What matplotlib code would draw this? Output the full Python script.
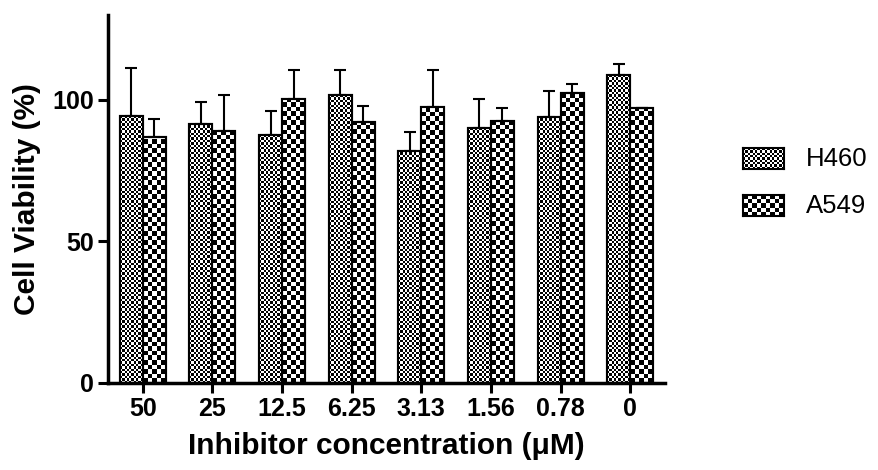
import numpy as np
import matplotlib
matplotlib.use("Agg")
import matplotlib.pyplot as plt

plt.rcParams['font.family'] = ['Liberation Sans', 'DejaVu Sans']

categories = ["50", "25", "12.5", "6.25", "3.13", "1.56", "0.78", "0"]
h460 = [94.2, 91.6, 87.6, 101.9, 81.9, 90.0, 94.1, 108.9]
h460_err = [17.2, 7.8, 8.4, 8.5, 6.8, 10.5, 9.2, 3.9]
a549 = [86.9, 89.0, 100.2, 92.3, 97.5, 92.6, 102.4, 97.0]
a549_err = [6.5, 12.6, 10.5, 5.6, 12.9, 4.6, 3.3, 0.0]
series_names = ["H460", "A549"]

W, H = 879, 470
fig = plt.figure(figsize=(W / 100, H / 100), dpi=100)
ax = fig.add_axes([108 / W, 87 / H, (665 - 108) / W, (383 - 15) / H])

x = np.arange(len(categories))
bw = 0.33
px_per_unit_y = (383 - 15) / 130.0
px_per_unit_x = (665 - 108) / 8.0


def checker(nx, ny):
    a = (np.add.outer(np.arange(ny), np.arange(nx)) % 2).astype(float)
    return a


def fill_checker(rect, sq_px):
    x0 = rect.get_x()
    w = rect.get_width()
    h = rect.get_height()
    wpx = w * px_per_unit_x
    hpx = h * px_per_unit_y
    nx = max(1, int(round(wpx / sq_px)))
    ny = max(1, int(round(hpx / sq_px)))
    img = checker(nx, ny)
    im = ax.imshow(img, cmap='gray', vmin=0, vmax=1, interpolation='nearest',
                   extent=(x0, x0 + w, 0, ny * sq_px / px_per_unit_y),
                   origin='lower', aspect='auto', zorder=1.5)
    im.set_clip_path(rect)


bars1 = ax.bar(x - bw / 2, h460, bw, facecolor='white', edgecolor='black',
               linewidth=1.5, zorder=1)
bars2 = ax.bar(x + bw / 2, a549, bw, facecolor='white', edgecolor='black',
               linewidth=1.5, zorder=1)
for r in bars1:
    fill_checker(r, 2.4)
for r in bars2:
    fill_checker(r, 4.6)
# redraw edges on top
ax.bar(x - bw / 2, h460, bw, facecolor='none', edgecolor='black', linewidth=1.5, zorder=2)
ax.bar(x + bw / 2, a549, bw, facecolor='none', edgecolor='black', linewidth=1.5, zorder=2)

ax.errorbar(x - bw / 2, h460, yerr=[np.zeros(len(h460)), h460_err], fmt='none',
            ecolor='black', elinewidth=1.5, capsize=4.5, capthick=1.5, zorder=3)
ax.errorbar(x + bw / 2, a549, yerr=[np.zeros(len(a549)), a549_err], fmt='none',
            ecolor='black', elinewidth=1.5, capsize=4.5, capthick=1.5, zorder=3)

ax.set_xlim(-0.5, 7.5)
ax.set_ylim(0, 130)
ax.set_yticks([0, 50, 100])
ax.set_xticks(x)
ax.set_xticklabels(categories)
for s in ['top', 'right']:
    ax.spines[s].set_visible(False)
for s in ['left', 'bottom']:
    ax.spines[s].set_linewidth(2.5)
ax.tick_params(axis='both', width=2.2, length=7, labelsize=18, direction='out', pad=3)
for lab in ax.get_xticklabels() + ax.get_yticklabels():
    lab.set_fontweight('bold')
ax.set_xlabel("Inhibitor concentration (\u03bcM)", fontsize=21.5, fontweight='bold', labelpad=8)
ax.set_ylabel("Cell Viability (%)", fontsize=21.5, fontweight='bold', labelpad=8)

# legend
for i, (name, sq) in enumerate(zip(series_names, [2.4, 4.6])):
    top = 148 + i * 47
    lx0, lx1, ly0, ly1 = 743, 784, top, top + 21
    lax = fig.add_axes([lx0 / W, (H - ly1) / H, (lx1 - lx0) / W, (ly1 - ly0) / H])
    nx = int(round((lx1 - lx0) / sq))
    ny = int(round((ly1 - ly0) / sq))
    lax.imshow(checker(nx, ny), cmap='gray', vmin=0, vmax=1, interpolation='nearest', aspect='auto')
    lax.set_xticks([])
    lax.set_yticks([])
    for s in lax.spines.values():
        s.set_linewidth(1.5)
    fig.text(806 / W, 1 - (top + 11) / H, name, fontsize=18.5, va='center', ha='left')

fig.savefig("out.png", dpi=100)
